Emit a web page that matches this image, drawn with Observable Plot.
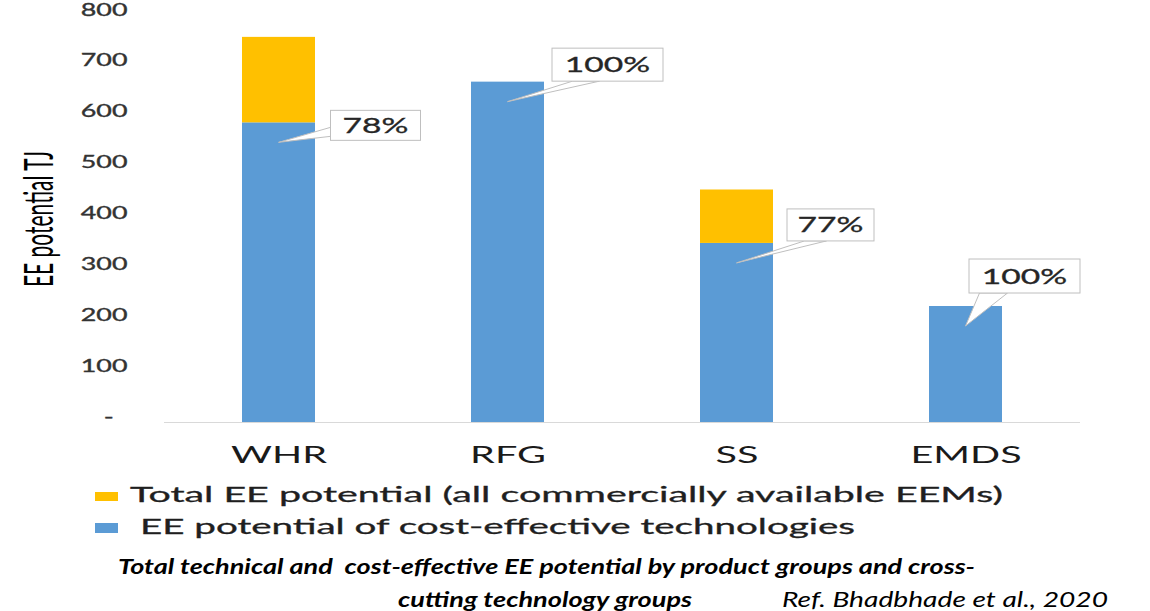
<!DOCTYPE html>
<html><head><meta charset="utf-8">
<script src="https://cdn.jsdelivr.net/npm/d3@7"></script>
<script src="https://cdn.jsdelivr.net/npm/@observablehq/plot@0.6"></script>
<style>
body{margin:0;background:#fff;}
#wrap{position:relative;width:1150px;height:611px;overflow:hidden;background:#fff;}
#chart{position:absolute;left:0;top:0;}
.fit{position:absolute;white-space:pre;transform-origin:0 0;line-height:1;}
.sw{position:absolute;}
</style></head><body>
<div id="wrap">
  <div id="chart"></div>
  <div class="sw" id="sw1" style="left:95px;top:492px;width:23px;height:9px;"></div>
  <div class="fit" id="leg1" data-w="873" style="left:130px;top:481px;font:21px Lato;color:#1f1f1f;-webkit-text-stroke:0.3px #1f1f1f"></div>
  <div class="sw" id="sw2" style="left:95px;top:523px;width:23px;height:10px;"></div>
  <div class="fit" id="leg2" data-w="715" style="left:140px;top:513px;font:21px Lato;color:#1f1f1f;-webkit-text-stroke:0.3px #1f1f1f"></div>
  <div class="fit" id="cap1" data-w="857" style="left:118px;top:554px;font:italic bold 20px Lato;color:#000"></div>
  <div class="fit" id="cap2" data-w="294" style="left:398px;top:587px;font:italic bold 20px Lato;color:#000"></div>
  <div class="fit" id="ref" data-w="326" style="left:782px;top:586px;font:italic 21px Lato;color:#000"></div>
</div>
<script>
// ---- data ----
const categories = ["WHR", "RFG", "SS", "EMDS"];
const totalPotential = [757, 669, 457, 228];
const costEffectivePotential = [589, 669, 352, 228];
const shareLabels = ["78%", "100%", "77%", "100%"];
const yTickValues = [0, 100, 200, 300, 400, 500, 600, 700, 800];
const legendLabels = ["Total EE potential (all commercially available EEMs)", "EE potential of cost-effective technologies"];
const yTitle = "EE potential TJ";
const captionLines = ["Total technical and  cost-effective EE potential by product groups and cross-", "cutting technology groups"];
const reference = "Ref. Bhadbhade et al., 2020";

// ---- styles ----
const colors = {total: "#FFC000", cost: "#5B9BD5"};
const STRETCH = 1.6;
// callout box: offset of box centre from the pointer tip, box size, wedge base relative to box centre
const calloutStyle = [
  {dx: 97, dy: -17, w: 90, h: 30, base: [[-45, 2], [-45, 11]]},
  {dx: 100, dy: -37, w: 111, h: 33, base: [[-35, 16.5], [-8, 16.5]]},
  {dx: 94, dy: -38, w: 87, h: 32, base: [[-26, 16], [-4, 16]]},
  {dx: 59, dy: -50, w: 111, h: 34, base: [[-45, 17], [-17, 17]]}
];

const rows = categories.map((c, i) => ({category: c, total: totalPotential[i], cost: costEffectivePotential[i], share: shareLabels[i]}));

function callouts(index, scales) {
  const sx = scales.x, sy = scales.y;
  const bw = sx.bandwidth ? sx.bandwidth() : 0;
  const g = d3.create("svg:g").attr("aria-label", "callouts");
  rows.forEach((d, i) => {
    const st = calloutStyle[i];
    const tx = sx(d.category) + bw / 2, ty = sy(d.cost) + 20;
    const cx = tx + st.dx, cy = ty + st.dy;
    const [b1, b2] = st.base;
    g.append("path")
      .attr("d", `M${tx},${ty}L${cx + b1[0]},${cy + b1[1]}L${cx + b2[0]},${cy + b2[1]}Z`)
      .attr("fill", "#fff").attr("stroke", "#bfbfbf").attr("stroke-width", 1);
    g.append("rect")
      .attr("x", cx - st.w / 2).attr("y", cy - st.h / 2)
      .attr("width", st.w).attr("height", st.h)
      .attr("fill", "#fff").attr("stroke", "#bfbfbf").attr("stroke-width", 1);
    g.append("text")
      .attr("transform", `translate(${cx},${cy}) scale(${STRETCH},1)`)
      .attr("text-anchor", "middle").attr("dy", "0.36em")
      .attr("font-family", "Lato").attr("font-size", 21).attr("fill", "#262626")
      .attr("stroke", "#262626").attr("stroke-width", 0.3)
      .text(d.share);
  });
  return g.node();
}

const plot = Plot.plot({
  width: 1150, height: 475,
  marginLeft: 164, marginRight: 70, marginTop: 15, marginBottom: 53,
  style: {fontFamily: "Lato", fontSize: "17px", color: "#404040", background: "#fff", overflow: "visible"},
  x: {domain: categories, paddingInner: 0.68, paddingOuter: 0.34, label: null, tickSize: 0, tickPadding: 40},
  y: {domain: [0, 800], ticks: yTickValues, tickFormat: v => v === 0 ? "-\u00a0\u00a0" : String(v), label: null, tickSize: 0, tickPadding: 37},
  marks: [
    Plot.ruleY([0], {stroke: "#d9d9d9", strokeWidth: 1}),
    Plot.barY(rows, {x: "category", y1: 0, y2: "cost", fill: colors.cost}),
    Plot.barY(rows, {x: "category", y1: "cost", y2: "total", fill: colors.total}),
    Plot.text([yTitle], {text: d => d, frameAnchor: "left", textAnchor: "middle", rotate: -90, dx: -124, fill: "#000"}),
    callouts
  ]
});
document.getElementById("chart").appendChild(plot);

function stretchText(el, s) {
  const x = +el.getAttribute("x") || 0, y = +el.getAttribute("y") || 0;
  const t = el.getAttribute("transform") || "";
  el.setAttribute("transform", `${t} translate(${x},${y}) scale(${s},1)`);
  el.setAttribute("x", 0); el.setAttribute("y", 0);
}
plot.querySelectorAll('[aria-label^="x-axis"] text').forEach(el => {
  el.style.fontSize = "24px"; el.style.fill = "#1a1a1a";
  stretchText(el, 1.65);
});
plot.querySelectorAll('[aria-label^="y-axis"] text').forEach(el => {
  el.style.fill = "#333"; el.style.stroke = "#333"; el.style.strokeWidth = "0.35px";
  stretchText(el, 1.58);
});
plot.querySelectorAll("text").forEach(el => {
  if (el.textContent === yTitle) {
    el.style.fontSize = "21px";
    el.setAttribute("text-anchor", "middle");
    const t = el.getAttribute("transform") || "";
    el.setAttribute("transform", `${t} scale(1,1.9)`);
  }
});

// legend & caption
document.getElementById("sw1").style.background = colors.total;
document.getElementById("sw2").style.background = colors.cost;
document.getElementById("leg1").textContent = legendLabels[0];
document.getElementById("leg2").textContent = legendLabels[1];
document.getElementById("cap1").textContent = captionLines[0];
document.getElementById("cap2").textContent = captionLines[1];
document.getElementById("ref").textContent = reference;
function fitAll() {
  document.querySelectorAll(".fit").forEach(el => {
    el.style.transform = "none";
    const w = el.getBoundingClientRect().width;
    el.style.transform = `scaleX(${(+el.dataset.w) / w})`;
  });
}
fitAll();
if (document.fonts && document.fonts.ready) document.fonts.ready.then(fitAll);
</script>
</body></html>
